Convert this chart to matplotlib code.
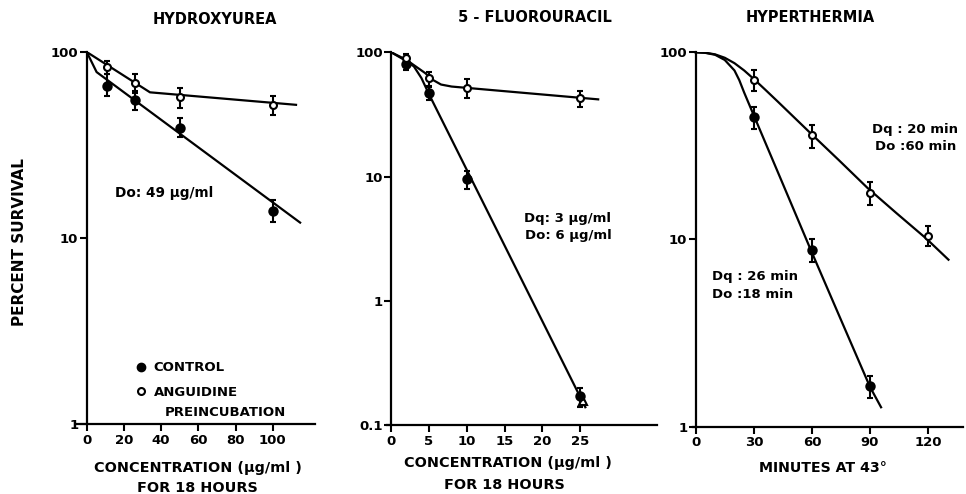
import matplotlib
matplotlib.use("Agg")
import matplotlib.pyplot as plt
from matplotlib.lines import Line2D
from matplotlib.ticker import FixedLocator, NullLocator

plt.rcParams['font.family'] = ['DejaVu Sans']
plt.rcParams['font.weight'] = 'bold'

# ---------------------------------------------------------------------------
# data
# hydroxyurea (ug/ml, percent survival)
hu_dose = [11, 26, 50, 100]
hu_ctrl = [66, 55, 39, 14]
hu_ctrl_lo = [8, 6, 4, 1.8]
hu_ctrl_hi = [10, 7, 5, 2.0]
hu_ang = [83, 68, 57, 52]
hu_ang_err = [7, 8, 7, 6]
hu_ctrl_fit_x = [0, 5.3, 114.7]
hu_ctrl_fit_y = [100, 78, 12.1]
hu_ang_fit_x = [0, 34, 112.5]
hu_ang_fit_y = [100, 60.7, 52]

# 5-fluorouracil
fu_dose = [2, 5, 10, 25]
fu_ctrl = [80.5, 47, 9.5, 0.17]
fu_ctrl_err = [8, 6, 1.5, 0.03]
fu_ang = [89.5, 62, 52, 42.5]
fu_ang_err = [8, 8, 9, 6]
fu_extra_x = [25.4]
fu_extra_y = [0.155]
fu_ctrl_fit_x = [0, 2, 3, 4, 5, 25.7]
fu_ctrl_fit_y = [100, 85, 77, 62, 46, 0.139]
fu_ang_fit_x = [0, 2, 4.5, 5.5, 6.6, 8, 27.4]
fu_ang_fit_y = [100, 87, 68, 60, 55, 53, 41.8]

# hyperthermia (minutes at 43 C)
ht_time = [30, 60, 90]
ht_ctrl = [45, 8.8, 1.64]
ht_ctrl_err = [6, 1.2, 0.22]
ht_time_ang = [30, 60, 90, 120]
ht_ang = [71, 36, 17.7, 10.5]
ht_ang_err = [9, 5, 2.5, 1.3]
ht_ctrl_fit_x = [0, 5, 10, 15, 20, 22.5, 25, 30, 43.7, 59.4, 75.1, 90, 95.7]
ht_ctrl_fit_y = [100, 99.3, 97, 91, 80, 71, 61, 46, 21.3, 8.8, 3.7, 1.63, 1.27]
ht_ang_fit_x = [0, 5, 10, 15, 20, 25, 30, 36, 42.4, 58.9, 73.8, 88.6, 103.4, 119.1, 130.5]
ht_ang_fit_y = [100, 99.5, 97.5, 93.5, 87.5, 80, 72, 63, 54.5, 37.3, 26.6, 18.9, 13.9, 10.1, 7.8]

titles = ['HYDROXYUREA', '5 - FLUOROURACIL', 'HYPERTHERMIA']

W, H = 966, 494
fig = plt.figure(figsize=(W / 100, H / 100), dpi=100)


def fx(px):
    return px / W


def fy(py):
    return 1 - py / H


def make_axes(left_px, right_px, top_px, bottom_px, xlim, ylim, xticks, yticks, yticklabels):
    ax = fig.add_axes([fx(left_px), fy(bottom_px), fx(right_px - left_px), (bottom_px - top_px) / H])
    ax.set_yscale('log')
    ax.set_xlim(*xlim)
    ax.set_ylim(*ylim)
    ax.spines['top'].set_visible(False)
    ax.spines['right'].set_visible(False)
    ax.spines['left'].set_position(('data', 0))
    ax.spines['left'].set_linewidth(1.6)
    ax.spines['bottom'].set_linewidth(1.6)
    ax.xaxis.set_major_locator(FixedLocator(xticks))
    ax.set_xticklabels([str(t) for t in xticks])
    ax.yaxis.set_major_locator(FixedLocator(yticks))
    ax.yaxis.set_minor_locator(NullLocator())
    ax.set_yticklabels(yticklabels)
    ax.tick_params(direction='out', length=5, width=1.5, labelsize=9.5, pad=2)
    ax.tick_params(axis='y', pad=1)
    return ax


def draw(ax, x, y, yerr, filled):
    ax.errorbar(x, y, yerr=yerr, fmt='o', color='black', ms=6 if filled else 5,
                mfc='black' if filled else 'white', mec='black', mew=1.5,
                elinewidth=1.5, capsize=2.5, capthick=1.5, zorder=3, clip_on=False)


ax1 = make_axes(76.7, 315, 52, 424, (-5.4, 122.7), (1, 100),
                [0, 20, 40, 60, 80, 100], [1, 10, 100], ['1', '10', '100'])
ax1.plot(hu_ctrl_fit_x, hu_ctrl_fit_y, color='black', lw=1.6)
ax1.plot(hu_ang_fit_x, hu_ang_fit_y, color='black', lw=1.6)
draw(ax1, hu_dose, hu_ctrl, [hu_ctrl_lo, hu_ctrl_hi], True)
draw(ax1, hu_dose, hu_ang, hu_ang_err, False)

ax2 = make_axes(386.7, 656.7, 52.3, 425, (-0.6, 35.15), (0.1, 100),
                [0, 5, 10, 15, 20, 25], [0.1, 1, 10, 100], ['0.1', '1', '10', '100'])
ax2.plot(fu_ctrl_fit_x, fu_ctrl_fit_y, color='black', lw=1.6)
ax2.plot(fu_ang_fit_x, fu_ang_fit_y, color='black', lw=1.6)
draw(ax2, fu_dose, fu_ctrl, fu_ctrl_err, True)
draw(ax2, fu_dose, fu_ang, fu_ang_err, False)
ax2.plot(fu_extra_x, fu_extra_y, '^', ms=6, mfc='white', mec='black', mew=1.5, zorder=3)

ax3 = make_axes(693, 963, 52.3, 426.7, (-1.4, 138), (1, 100),
                [0, 30, 60, 90, 120], [1, 10, 100], ['1', '10', '100'])
ax3.plot(ht_ctrl_fit_x, ht_ctrl_fit_y, color='black', lw=1.6)
ax3.plot(ht_ang_fit_x, ht_ang_fit_y, color='black', lw=1.6)
draw(ax3, ht_time, ht_ctrl, ht_ctrl_err, True)
draw(ax3, ht_time_ang, ht_ang, ht_ang_err, False)

# titles
for t, (px, py) in zip(titles, [(214.5, 19), (535, 18), (810, 18)]):
    fig.text(fx(px), fy(py), t, ha='center', va='center', fontsize=10.5)

# axis labels
fig.text(fx(20), fy(242), 'PERCENT SURVIVAL', rotation=90, ha='center', va='center', fontsize=11)
fig.text(fx(198), fy(468), 'CONCENTRATION (µg/ml )', ha='center', va='center', fontsize=10.4)
fig.text(fx(197), fy(488), 'FOR 18 HOURS', ha='center', va='center', fontsize=10.4)
fig.text(fx(508), fy(463), 'CONCENTRATION (µg/ml )', ha='center', va='center', fontsize=10.4)
fig.text(fx(504), fy(485), 'FOR 18 HOURS', ha='center', va='center', fontsize=10.4)
fig.text(fx(823), fy(468), 'MINUTES AT 43°', ha='center', va='center', fontsize=10.2)

# annotations
fig.text(fx(115), fy(193), 'Do: 49 µg/ml', ha='left', va='center', fontsize=9.8)
fig.text(fx(524), fy(218), 'Dq: 3 µg/ml', ha='left', va='center', fontsize=9.5)
fig.text(fx(525), fy(235), 'Do: 6 µg/ml', ha='left', va='center', fontsize=9.5)
fig.text(fx(872), fy(129), 'Dq : 20 min', ha='left', va='center', fontsize=9.5)
fig.text(fx(875), fy(146), 'Do :60 min', ha='left', va='center', fontsize=9.5)
fig.text(fx(712), fy(276), 'Dq : 26 min', ha='left', va='center', fontsize=9.5)
fig.text(fx(712), fy(294), 'Do :18 min', ha='left', va='center', fontsize=9.5)

# legend
handles = [Line2D([], [], marker='o', ls='none', color='black', ms=6),
           Line2D([], [], marker='o', ls='none', mfc='white', mec='black', mew=1.5, ms=5)]
ax1.legend(handles, ['CONTROL', 'ANGUIDINE'], loc='center left',
           bbox_to_anchor=(fx(134), fy(380)), bbox_transform=fig.transFigure,
           frameon=False, borderpad=0, borderaxespad=0, handlelength=1.0,
           handletextpad=0.5, labelspacing=0.85, prop={'weight': 'bold', 'size': 9.5})
fig.text(fx(165), fy(412), 'PREINCUBATION', ha='left', va='center', fontsize=9.5)

fig.savefig('out.png', dpi=100)
